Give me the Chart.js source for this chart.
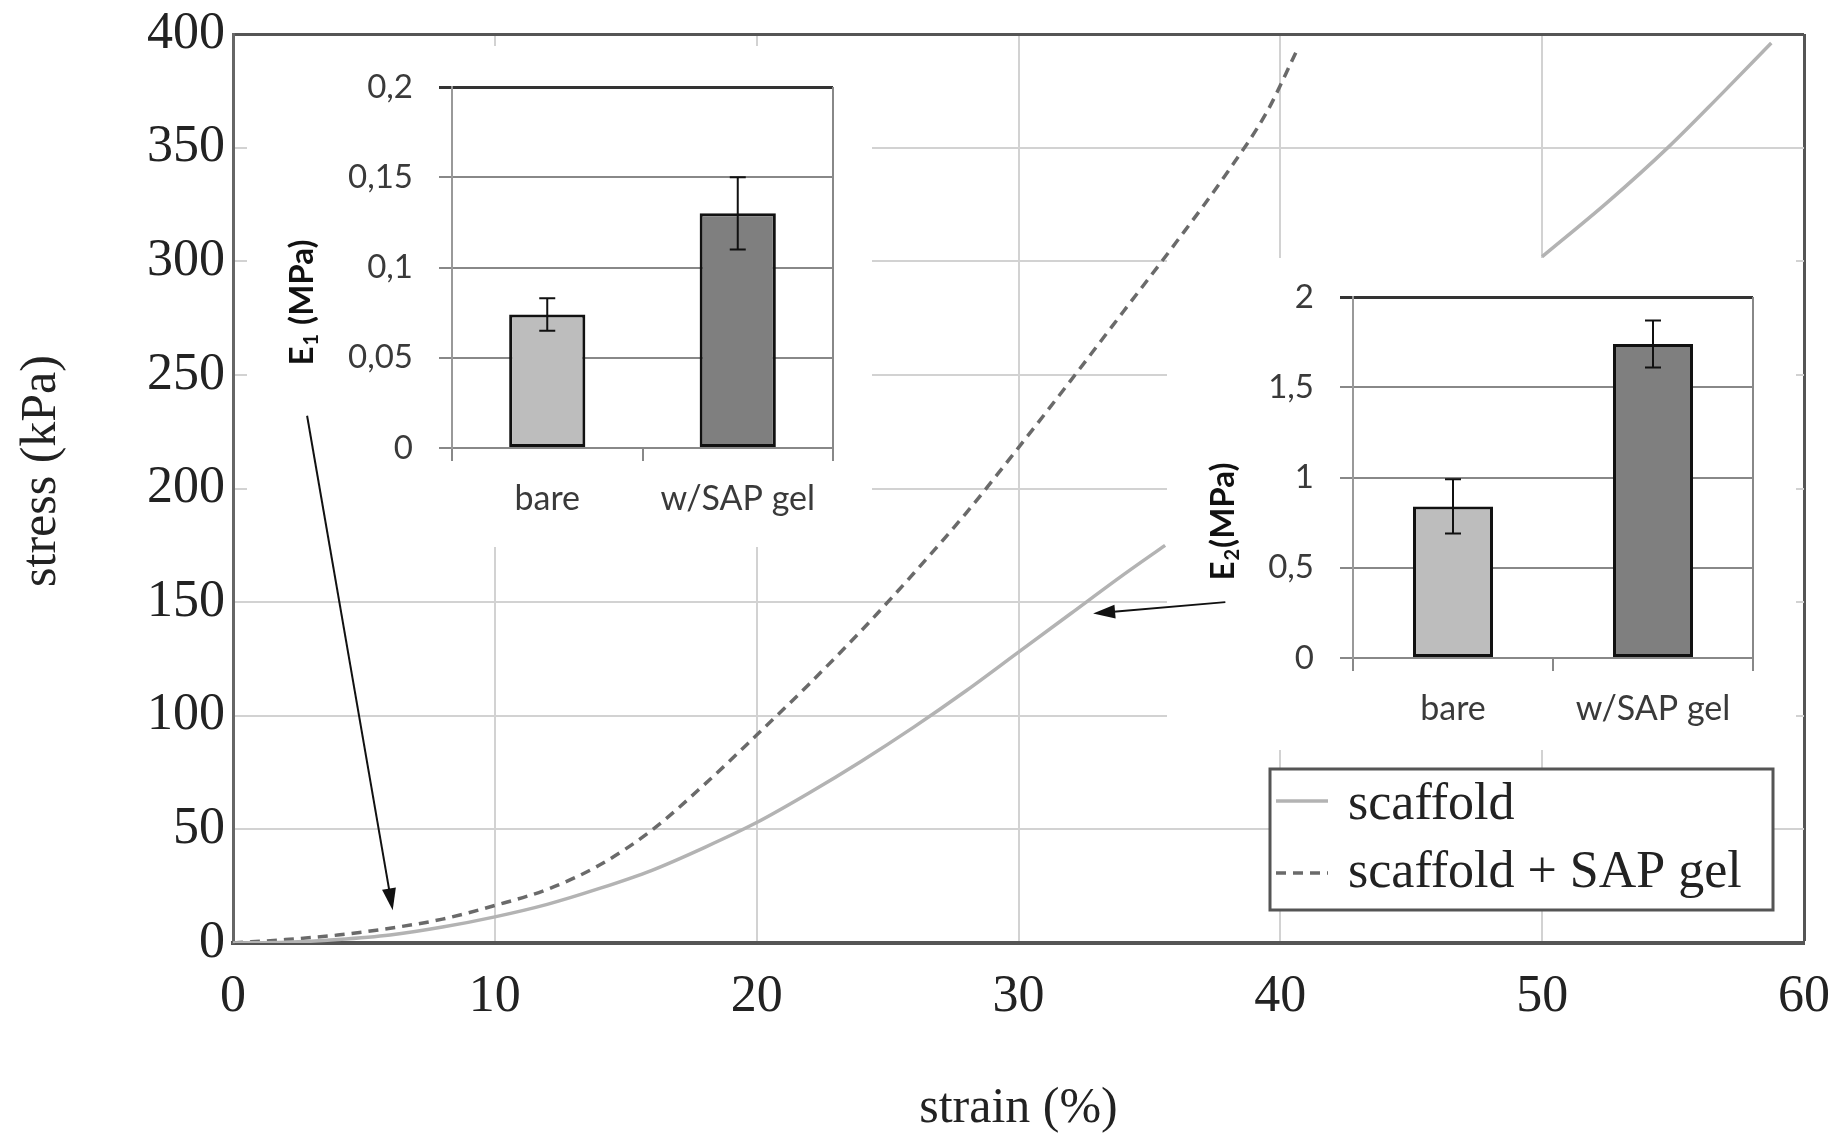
<!DOCTYPE html>
<html>
<head>
<meta charset="utf-8">
<title>stress-strain</title>
<script src="https://cdn.jsdelivr.net/npm/chart.js@4.4.1/dist/chart.umd.min.js"></script>
<style>
  html, body { margin: 0; padding: 0; background: #fff; }
  #wrap { position: relative; width: 1847px; height: 1141px; overflow: hidden; }
  canvas { position: absolute; }
  #main { left: 0; top: 0; }
  #ins1 { left: 247px; top: 46px; }
  #ins2 { left: 1167px; top: 258px; }
</style>
</head>
<body>
<div id="wrap">
  <canvas id="main" width="1847" height="1141"></canvas>
  <canvas id="ins1" width="625" height="501"></canvas>
  <canvas id="ins2" width="629" height="492"></canvas>
</div>
<script>
// curvas tension-deformacion
const strainScaffold = [0, 2, 4, 6, 8, 10, 12, 14, 16, 18, 20, 22, 24, 26, 28, 30, 32, 34, 35.6];
const stressScaffold = [0, 0.3, 1.5, 3.5, 7, 11.5, 17, 24, 32, 42, 53, 66, 80, 95, 111, 128, 145, 162, 175];
const strainGel = [0, 2, 4, 6, 8, 10, 12, 14, 16, 18, 20, 22, 24, 26, 28, 30, 32, 34, 36, 38, 39.5, 40.6];
const stressGel = [0, 1.5, 3.5, 6.5, 10.5, 16.5, 23.6, 34.3, 49.7, 69.7, 91.5, 113.9, 137.5, 162.7, 189.2, 218, 247.6, 277.8, 308, 339.5, 366, 392];
// tramo suelto arriba a la derecha
const strainTail = [50, 52.5, 54.8, 56.8, 58.75];
const stressTail = [302, 326, 350, 373, 396];

// barras de los recuadros
const barCategories = ['bare', 'w/SAP gel'];
const e1Values = [0.074, 0.130];
const e1Errors = [0.009, 0.020];
const e1TickLabels = ['0', '0,05', '0,1', '0,15', '0,2'];
const e2Values = [0.84, 1.74];
const e2Errors = [0.15, 0.13];
const e2TickLabels = ['0', '0,5', '1', '1,5', '2'];

// flechas (en unidades de strain / stress)
const arrowE1 = { from: [2.83, 232], to: [6.1, 14.4] };
const arrowE2 = { from: [37.9, 150], to: [32.85, 145] };

const serif = 'Liberation Serif, Times New Roman, serif';
const sans = 'Lato, Noto Sans, sans-serif';
const legendBox = { left: 1270, top: 769, right: 1773, bottom: 910 };

function toPoints(xs, ys) {
    return xs.map((x, i) => ({ x: x, y: ys[i] }));
}

function drawArrow(ctx, x1, y1, x2, y2) {
    const ang = Math.atan2(y2 - y1, x2 - x1);
    const len = 22, half = 7;
    ctx.save();
    ctx.strokeStyle = '#111';
    ctx.fillStyle = '#111';
    ctx.lineWidth = 2;
    ctx.beginPath();
    ctx.moveTo(x1, y1);
    ctx.lineTo(x2 - Math.cos(ang) * len * 0.8, y2 - Math.sin(ang) * len * 0.8);
    ctx.stroke();
    ctx.beginPath();
    ctx.moveTo(x2, y2);
    ctx.lineTo(x2 - Math.cos(ang) * len - Math.sin(ang) * half, y2 - Math.sin(ang) * len + Math.cos(ang) * half);
    ctx.lineTo(x2 - Math.cos(ang) * len + Math.sin(ang) * half, y2 - Math.sin(ang) * len - Math.cos(ang) * half);
    ctx.closePath();
    ctx.fill();
    ctx.restore();
}

// tapa la rejilla detras de los recuadros y la leyenda
const maskPlugin = {
    id: 'masks',
    beforeDatasetsDraw(chart) {
        const ctx = chart.ctx;
        ctx.save();
        ctx.fillStyle = '#fff';
        ['ins1', 'ins2'].forEach(id => {
            const c = document.getElementById(id);
            ctx.fillRect(c.offsetLeft, c.offsetTop, c.width, c.height);
        });
        ctx.fillRect(legendBox.left, legendBox.top, legendBox.right - legendBox.left, legendBox.bottom - legendBox.top);
        ctx.restore();
    }
};

// leyenda con recuadro y flechas
const extrasPlugin = {
    id: 'extras',
    afterDatasetsDraw(chart) {
        const ctx = chart.ctx;
        const xs = chart.scales.x, ys = chart.scales.y;
        ctx.save();
        ctx.strokeStyle = '#555';
        ctx.lineWidth = 3;
        ctx.strokeRect(legendBox.left, legendBox.top, legendBox.right - legendBox.left, legendBox.bottom - legendBox.top);
        const rows = [{ ds: chart.data.datasets[0], y: 801, base: 819 }, { ds: chart.data.datasets[1], y: 873, base: 887 }];
        rows.forEach(r => {
            ctx.strokeStyle = r.ds.borderColor;
            ctx.lineWidth = 3.5;
            ctx.setLineDash(r.ds.borderDash || []);
            ctx.beginPath();
            ctx.moveTo(legendBox.left + 6, r.y);
            ctx.lineTo(legendBox.left + 58, r.y);
            ctx.stroke();
            ctx.setLineDash([]);
            ctx.fillStyle = '#222';
            ctx.font = '52px ' + serif;
            ctx.textBaseline = 'alphabetic';
            ctx.textAlign = 'left';
            ctx.fillText(r.ds.label, legendBox.left + 78, r.base);
        });
        ctx.restore();
        [arrowE1, arrowE2].forEach(a => {
            drawArrow(ctx, xs.getPixelForValue(a.from[0]), ys.getPixelForValue(a.from[1]),
                xs.getPixelForValue(a.to[0]), ys.getPixelForValue(a.to[1]));
        });
    }
};

const mainChart = new Chart(document.getElementById('main'), {
    type: 'line',
    data: {
        datasets: [
            {
                label: 'scaffold',
                data: toPoints(strainScaffold, stressScaffold),
                borderColor: '#b3b3b3',
                borderWidth: 3.5,
                pointRadius: 0,
                cubicInterpolationMode: 'monotone'
            },
            {
                label: 'scaffold + SAP gel',
                data: toPoints(strainGel, stressGel),
                borderColor: '#6a6a6a',
                borderWidth: 3.5,
                borderDash: [10, 7],
                pointRadius: 0,
                cubicInterpolationMode: 'monotone'
            },
            {
                label: 'tail',
                data: toPoints(strainTail, stressTail),
                borderColor: '#b3b3b3',
                borderWidth: 3.5,
                pointRadius: 0,
                cubicInterpolationMode: 'monotone'
            }
        ]
    },
    options: {
        responsive: false,
        animation: false,
        devicePixelRatio: 1,
        layout: { padding: { top: 34, right: 43, left: 0, bottom: 0 } },
        plugins: { legend: { display: false }, tooltip: { enabled: false } },
        scales: {
            x: {
                type: 'linear',
                min: 0,
                max: 60,
                ticks: { stepSize: 10, font: { family: serif, size: 52 }, color: '#222', padding: 0 },
                grid: {
                    drawTicks: true,
                    tickLength: 23,
                    tickColor: 'rgba(0,0,0,0)',
                    color: c => (c.tick && c.tick.value === 60) ? '#555' : '#d2d2d2',
                    lineWidth: c => (c.tick && c.tick.value === 60) ? 3 : 2
                },
                border: { color: '#555', width: 4 },
                title: { display: true, text: 'strain (%)', font: { family: serif, size: 50 }, color: '#222', padding: { top: 0, bottom: 2 } },
                afterFit: s => { s.height = 198; }
            },
            y: {
                min: 0,
                max: 400,
                ticks: { stepSize: 50, font: { family: serif, size: 52, lineHeight: 0.6 }, color: '#222', padding: 8 },
                grid: {
                    drawTicks: false,
                    color: c => (c.tick && c.tick.value === 400) ? '#555' : '#d2d2d2',
                    lineWidth: c => (c.tick && c.tick.value === 400) ? 3 : 2
                },
                border: { color: '#666', width: 3 },
                title: { display: true, text: '\u2002\u2009stress (kPa)', font: { family: serif, size: 50 }, color: '#222', padding: { top: 12, bottom: 0 } },
                afterFit: s => { s.width = 233; }
            }
        }
    },
    plugins: [maskPlugin, extrasPlugin]
});

// barras de error, borde derecho y titulo del eje
const insetPlugin = {
    id: 'insetDecor',
    beforeDatasetsDraw(chart) {
        const ctx = chart.ctx, a = chart.chartArea;
        ctx.save();
        ctx.strokeStyle = '#888';
        ctx.lineWidth = 2;
        ctx.beginPath();
        ctx.moveTo(a.right, a.top);
        ctx.lineTo(a.right, a.bottom + 13);
        ctx.stroke();
        ctx.restore();
    },
    afterDatasetsDraw(chart, args, opts) {
        const ctx = chart.ctx, a = chart.chartArea;
        const ys = chart.scales.y;
        const meta = chart.getDatasetMeta(0);
        const values = chart.data.datasets[0].data;
        ctx.save();
        ctx.strokeStyle = '#111';
        ctx.lineWidth = 2;
        meta.data.forEach((bar, i) => {
            const top = ys.getPixelForValue(values[i] + opts.errors[i]);
            const bot = ys.getPixelForValue(values[i] - opts.errors[i]);
            ctx.beginPath();
            ctx.moveTo(bar.x, top); ctx.lineTo(bar.x, bot);
            ctx.moveTo(bar.x - 8, top); ctx.lineTo(bar.x + 8, top);
            ctx.moveTo(bar.x - 8, bot); ctx.lineTo(bar.x + 8, bot);
            ctx.stroke();
        });
        // titulo rotado con subindice
        const size = 33;
        const cx = a.left - opts.titleDx;
        const cy = (a.top + a.bottom) / 2 + opts.titleDy;
        ctx.translate(cx, cy);
        ctx.rotate(-Math.PI / 2);
        ctx.fillStyle = '#111';
        ctx.textBaseline = 'middle';
        ctx.textAlign = 'left';
        ctx.font = 'bold ' + size + 'px ' + sans;
        const wE = ctx.measureText('E').width;
        const wRest = ctx.measureText(opts.rest).width;
        ctx.font = 'bold ' + Math.round(size * 0.62) + 'px ' + sans;
        const wSub = ctx.measureText(opts.sub).width;
        let x = -(wE + wSub + wRest + 2) / 2;
        ctx.font = 'bold ' + size + 'px ' + sans;
        ctx.fillText('E', x, 0);
        x += wE + 1;
        ctx.font = 'bold ' + Math.round(size * 0.62) + 'px ' + sans;
        ctx.fillText(opts.sub, x, size * 0.28);
        x += wSub + 1;
        ctx.font = 'bold ' + size + 'px ' + sans;
        ctx.fillText(opts.rest, x, 0);
        ctx.restore();
    }
};

function crearRecuadro(id, values, errors, tickLabels, max, step, pad, yWidth, xHeight, deco) {
    return new Chart(document.getElementById(id), {
        type: 'bar',
        data: {
            labels: barCategories,
            datasets: [{
                data: values,
                backgroundColor: ['#bdbdbd', '#7f7f7f'],
                borderColor: '#111',
                borderWidth: 3,
                borderSkipped: false,
                categoryPercentage: 1,
                barPercentage: 0.4
            }]
        },
        options: {
            responsive: false,
            animation: false,
            devicePixelRatio: 1,
            layout: { padding: pad },
            plugins: {
                legend: { display: false },
                tooltip: { enabled: false },
                insetDecor: Object.assign({ errors: errors }, deco)
            },
            scales: {
                x: {
                    grid: { drawOnChartArea: false, tickLength: 13, color: '#888', lineWidth: 2, offset: true },
                    border: { color: '#888', width: 2 },
                    ticks: { font: { family: sans, size: 34 }, color: '#3a3a3a', padding: 18 },
                    afterFit: s => { s.height = xHeight; }
                },
                y: {
                    min: 0,
                    max: max,
                    ticks: {
                        stepSize: step,
                        callback: (v, i) => tickLabels[i],
                        font: { family: sans, size: 33, lineHeight: 0.6 },
                        color: '#3a3a3a',
                        padding: 26
                    },
                    grid: {
                        tickLength: 13,
                        color: c => (c.tick && Math.abs(c.tick.value - max) < 1e-9) ? '#333' : '#888',
                        lineWidth: c => (c.tick && Math.abs(c.tick.value - max) < 1e-9) ? 3 : 2
                    },
                    border: { color: '#999', width: 2 },
                    afterFit: s => { s.width = yWidth; }
                }
            }
        },
        plugins: [insetPlugin]
    });
}

crearRecuadro('ins1', e1Values, e1Errors, e1TickLabels, 0.2, 0.05,
    { top: 41, right: 39, left: 0, bottom: 0 }, 205, 99,
    { sub: '1', rest: ' (MPa)', titleDx: 150, titleDy: 35 });
crearRecuadro('ins2', e2Values, e2Errors, e2TickLabels, 2, 0.5,
    { top: 39, right: 43, left: 0, bottom: 0 }, 186, 92,
    { sub: '2', rest: '(MPa)', titleDx: 130, titleDy: 44 });
</script>
</body>
</html>
